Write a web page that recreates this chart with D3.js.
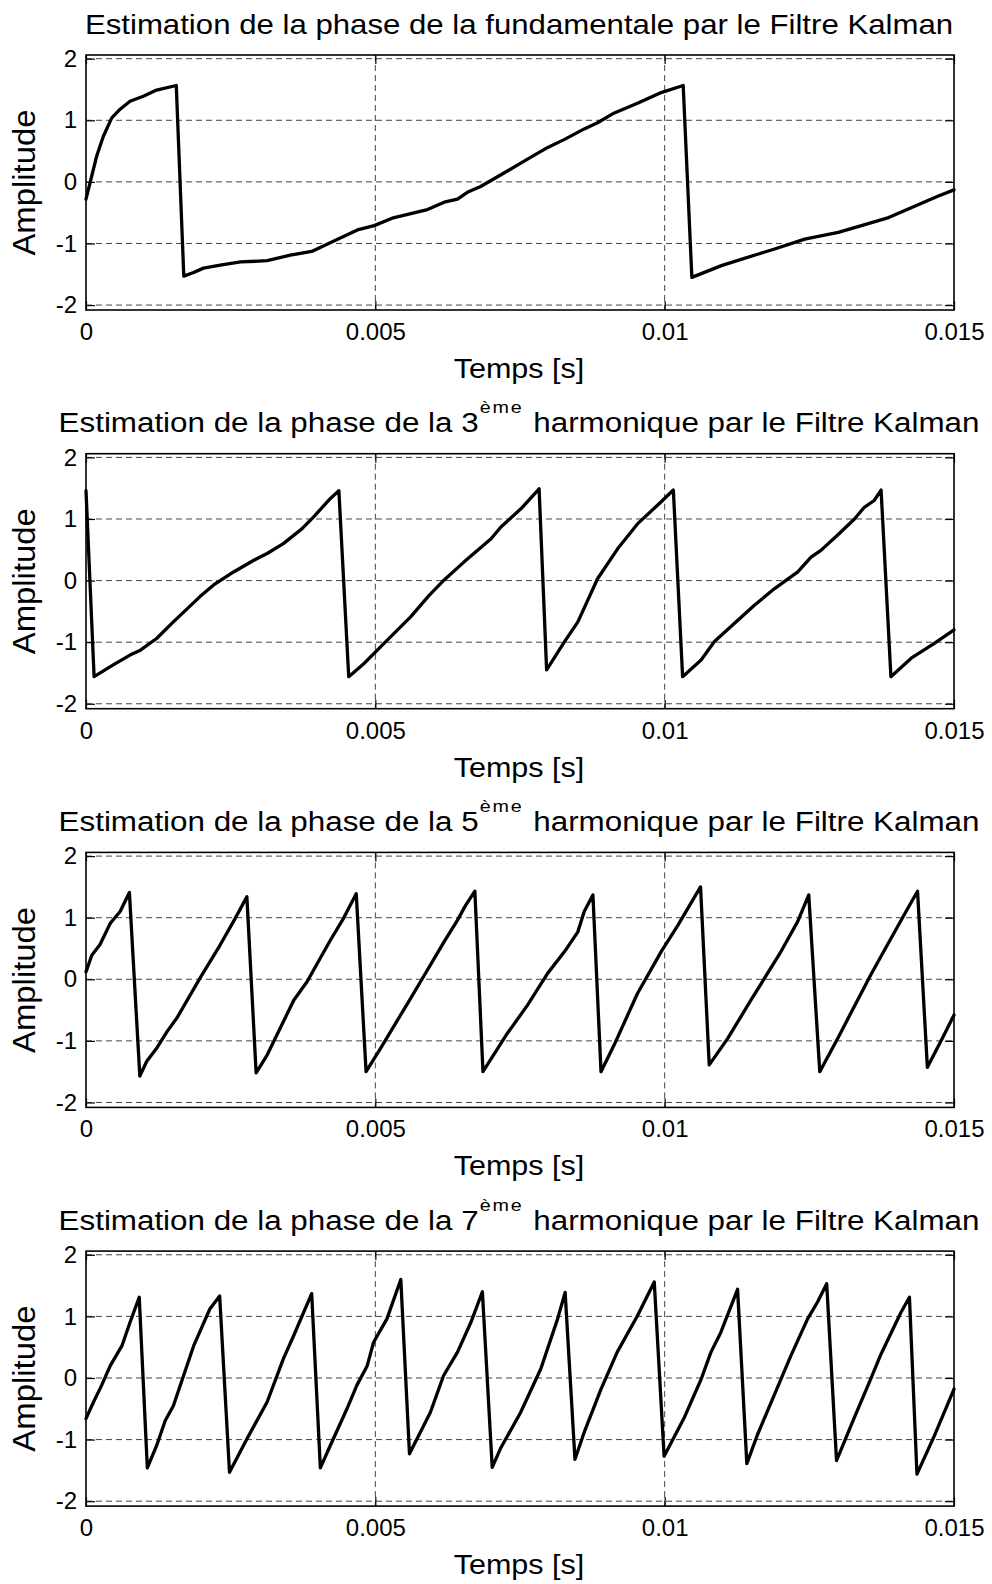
<!DOCTYPE html>
<html>
<head>
<meta charset="utf-8">
<script src="https://cdn.jsdelivr.net/npm/d3@7"></script>
<style>
  html, body { margin: 0; padding: 0; background: #fff; }
  svg { display: block; }
  text { font-family: "Liberation Sans", Arial, Helvetica, sans-serif; fill: #000; }
</style>
</head>
<body>
<svg id="chart" width="992" height="1584"></svg>
<script>
// Estimated phase vs time; time in milliseconds, phase values.
const phaseFundamentale = [
  [0,-0.28],[0.185,0.42],[0.3,0.74],[0.445,1.04],[0.59,1.18],[0.76,1.31],[0.99,1.39],[1.22,1.49],[1.56,1.565],
  [1.69,-1.53],[1.86,-1.47],[2.03,-1.40],[2.32,-1.35],[2.67,-1.30],[3.13,-1.28],[3.53,-1.19],[3.9,-1.13],[4.22,-0.99],
  [4.69,-0.78],[4.98,-0.71],[5.29,-0.59],[5.9,-0.45],[6.19,-0.33],[6.42,-0.28],[6.59,-0.17],[6.82,-0.075],[7.29,0.18],
  [7.63,0.37],[7.98,0.56],[8.27,0.69],[8.61,0.86],[8.84,0.96],[9.13,1.12],[9.54,1.28],[9.94,1.45],[10.32,1.565],
  [10.47,-1.55],[10.98,-1.36],[11.62,-1.17],[11.9,-1.09],[12.42,-0.93],[13.0,-0.82],[13.4,-0.71],[13.87,-0.58],
  [14.33,-0.39],[14.73,-0.23],[15,-0.13]
];

const phaseHarm3 = [
  [0,1.46],[0.14,-1.56],[0.47,-1.37],[0.76,-1.21],[0.94,-1.13],[1.22,-0.94],[1.51,-0.67],[1.97,-0.26],[2.2,-0.075],
  [2.55,0.14],[2.9,0.33],[3.13,0.44],[3.41,0.6],[3.73,0.84],[3.93,1.03],[4.22,1.33],[4.37,1.46],
  [4.54,-1.56],[4.8,-1.35],[5.15,-1.02],[5.61,-0.59],[5.93,-0.24],[6.19,0.01],[6.53,0.3],[7.0,0.68],[7.17,0.87],
  [7.52,1.17],[7.83,1.49],
  [7.96,-1.45],[8.27,-0.99],[8.5,-0.67],[8.84,0.03],[9.19,0.52],[9.53,0.92],[9.94,1.28],[10.15,1.47],
  [10.31,-1.56],[10.63,-1.29],[10.86,-0.99],[11.55,-0.4],[11.9,-0.13],[12.3,0.14],[12.53,0.38],[12.7,0.49],
  [12.99,0.74],[13.28,1.0],[13.45,1.19],[13.62,1.3],[13.74,1.47],
  [13.91,-1.56],[14.26,-1.26],[14.66,-1.02],[15,-0.8]
];

const phaseHarm5 = [
  [0,0.12],[0.1,0.39],[0.24,0.56],[0.42,0.91],[0.59,1.1],[0.75,1.41],
  [0.93,-1.57],[1.05,-1.33],[1.22,-1.12],[1.4,-0.85],[1.57,-0.63],[1.97,0.02],[2.32,0.56],[2.55,0.94],[2.78,1.34],
  [2.94,-1.52],[3.13,-1.23],[3.41,-0.69],[3.59,-0.34],[3.82,-0.04],[4.22,0.63],[4.45,0.99],[4.67,1.39],
  [4.84,-1.5],[5.09,-1.12],[5.61,-0.31],[5.78,-0.04],[5.95,0.23],[6.19,0.61],[6.42,0.96],[6.56,1.2],[6.72,1.43],
  [6.86,-1.5],[7.28,-0.88],[7.63,-0.42],[7.98,0.1],[8.27,0.45],[8.5,0.77],[8.61,1.1],[8.76,1.37],
  [8.9,-1.5],[9.13,-1.06],[9.53,-0.23],[9.94,0.45],[10.23,0.88],[10.62,1.5],
  [10.77,-1.39],[11.09,-0.96],[11.49,-0.34],[12.01,0.45],[12.3,0.94],[12.49,1.37],
  [12.68,-1.5],[12.99,-0.96],[13.56,0.07],[13.85,0.56],[14.2,1.15],[14.37,1.43],
  [14.54,-1.43],[14.83,-0.9],[15,-0.58]
];

const phaseHarm7 = [
  [0,-0.66],[0.13,-0.39],[0.27,-0.12],[0.42,0.2],[0.62,0.52],[0.76,0.9],[0.92,1.31],
  [1.06,-1.46],[1.22,-1.1],[1.37,-0.69],[1.51,-0.45],[1.86,0.52],[2.14,1.12],[2.31,1.33],
  [2.48,-1.53],[2.78,-0.99],[3.13,-0.39],[3.41,0.31],[3.59,0.69],[3.9,1.37],
  [4.05,-1.46],[4.22,-1.1],[4.51,-0.5],[4.68,-0.12],[4.86,0.2],[4.97,0.58],[5.2,0.96],[5.44,1.6],
  [5.59,-1.23],[5.95,-0.56],[6.18,0.04],[6.42,0.42],[6.65,0.9],[6.85,1.4],
  [7.02,-1.45],[7.16,-1.15],[7.51,-0.56],[7.86,0.15],[8.15,0.96],[8.28,1.39],
  [8.45,-1.32],[8.61,-0.88],[8.9,-0.18],[9.18,0.42],[9.53,1.01],[9.82,1.56],
  [9.99,-1.27],[10.34,-0.64],[10.63,-0.02],[10.8,0.42],[10.97,0.74],[11.26,1.44],
  [11.42,-1.39],[11.6,-0.93],[12.01,-0.02],[12.18,0.36],[12.47,0.96],[12.64,1.23],[12.8,1.53],
  [12.97,-1.34],[13.27,-0.66],[13.56,-0.02],[13.74,0.39],[14.08,1.06],[14.23,1.31],
  [14.36,-1.56],[14.66,-0.94],[15,-0.18]
];

// Harmonic order shown in each title (null = fundamental)
const harmonicOrders = [null, "3", "5", "7"];
const seriesList = [phaseFundamentale, phaseHarm3, phaseHarm5, phaseHarm7];

const xTickValues = [0, 0.005, 0.01, 0.015];
const xTickLabels = ["0", "0.005", "0.01", "0.015"];
const yTickValues = [-2, -1, 0, 1, 2];
const yTickLabels = ["-2", "-1", "0", "1", "2"];

const xLabel = "Temps [s]";
const yLabel = "Amplitude";

// Layout
const left = 86, right = 954;
const firstTop = 55, panelStep = 398.7, panelHeight = 255;
const cx = (left + right) / 2;

const svg = d3.select("#chart");

const x = d3.scaleLinear().domain([0, 0.015]).range([left, right]);

seriesList.forEach((series, i) => {
  const top = firstTop + i * panelStep;
  const bottom = top + panelHeight;
  const y = d3.scaleLinear().domain([-2.08, 2.06]).range([bottom, top]);
  const g = svg.append("g");

  // dashed grid
  g.append("g").selectAll("line").data(yTickValues).join("line")
    .attr("x1", left).attr("x2", right)
    .attr("y1", d => y(d)).attr("y2", d => y(d))
    .attr("stroke", "#444").attr("stroke-width", 1).attr("stroke-dasharray", "6,4");
  g.append("g").selectAll("line").data(xTickValues.slice(1, -1)).join("line")
    .attr("x1", d => x(d)).attr("x2", d => x(d))
    .attr("y1", top).attr("y2", bottom)
    .attr("stroke", "#444").attr("stroke-width", 1).attr("stroke-dasharray", "6,4");

  // axes with inward ticks on all four sides
  const tickLen = 9;
  const axL = d3.axisLeft(y).tickValues(yTickValues).tickFormat((d, k) => yTickLabels[k])
    .tickSizeInner(-tickLen).tickSizeOuter(0).tickPadding(9);
  const axR = d3.axisRight(y).tickValues(yTickValues).tickFormat("")
    .tickSizeInner(-tickLen).tickSizeOuter(0);
  const axB = d3.axisBottom(x).tickValues(xTickValues).tickFormat((d, k) => xTickLabels[k])
    .tickSizeInner(-tickLen).tickSizeOuter(0).tickPadding(13);
  const axT = d3.axisTop(x).tickValues(xTickValues).tickFormat("")
    .tickSizeInner(-tickLen).tickSizeOuter(0);

  const gl = g.append("g").attr("transform", `translate(${left},0)`).call(axL);
  const gr = g.append("g").attr("transform", `translate(${right},0)`).call(axR);
  const gb = g.append("g").attr("transform", `translate(0,${bottom})`).call(axB);
  const gt = g.append("g").attr("transform", `translate(0,${top})`).call(axT);
  [gl, gr, gb, gt].forEach(a => {
    a.select(".domain").remove();
    a.selectAll(".tick line").attr("stroke", "#000").attr("stroke-width", 1.2);
    a.selectAll("text").attr("font-size", 24).attr("fill", "#000")
      .style("font-family", '"Liberation Sans", Arial, sans-serif');
  });

  // the curve
  const line = d3.line().x(d => x(d[0] / 1000)).y(d => y(d[1]));
  g.append("path").datum(series)
    .attr("d", line).attr("fill", "none")
    .attr("stroke", "#000").attr("stroke-width", 3.3)
    .attr("stroke-linejoin", "round").attr("stroke-linecap", "round");

  // box
  g.append("rect").attr("x", left).attr("y", top)
    .attr("width", right - left).attr("height", bottom - top)
    .attr("fill", "none").attr("stroke", "#000").attr("stroke-width", 1.6);

  // title (slightly widened glyphs)
  const order = harmonicOrders[i];
  const t = g.append("text")
    .attr("transform", `translate(${cx - 1},${top - 21.5}) scale(${order === null ? 1.155 : 1.162},1)`)
    .attr("text-anchor", "middle").attr("font-size", 27);
  if (order === null) {
    t.text("Estimation de la phase de la fundamentale par le Filtre Kalman");
  } else {
    t.append("tspan").text("Estimation de la phase de la " + order);
    t.append("tspan").attr("dx", 1).attr("dy", -19).attr("font-size", 17).attr("letter-spacing", 1.5).text("ème");
    t.append("tspan").attr("dx", 1).attr("dy", 19).text(" harmonique par le Filtre Kalman");
  }

  // axis labels
  g.append("text")
    .attr("transform", `translate(${cx - 1},${bottom + 68}) scale(1.11,1)`)
    .attr("text-anchor", "middle").attr("font-size", 27.5).text(xLabel);
  g.append("text")
    .attr("transform", `translate(35,${(top + bottom) / 2}) rotate(-90) scale(1.06,1)`)
    .attr("text-anchor", "middle").attr("font-size", 31).text(yLabel);
});
</script>
</body>
</html>
